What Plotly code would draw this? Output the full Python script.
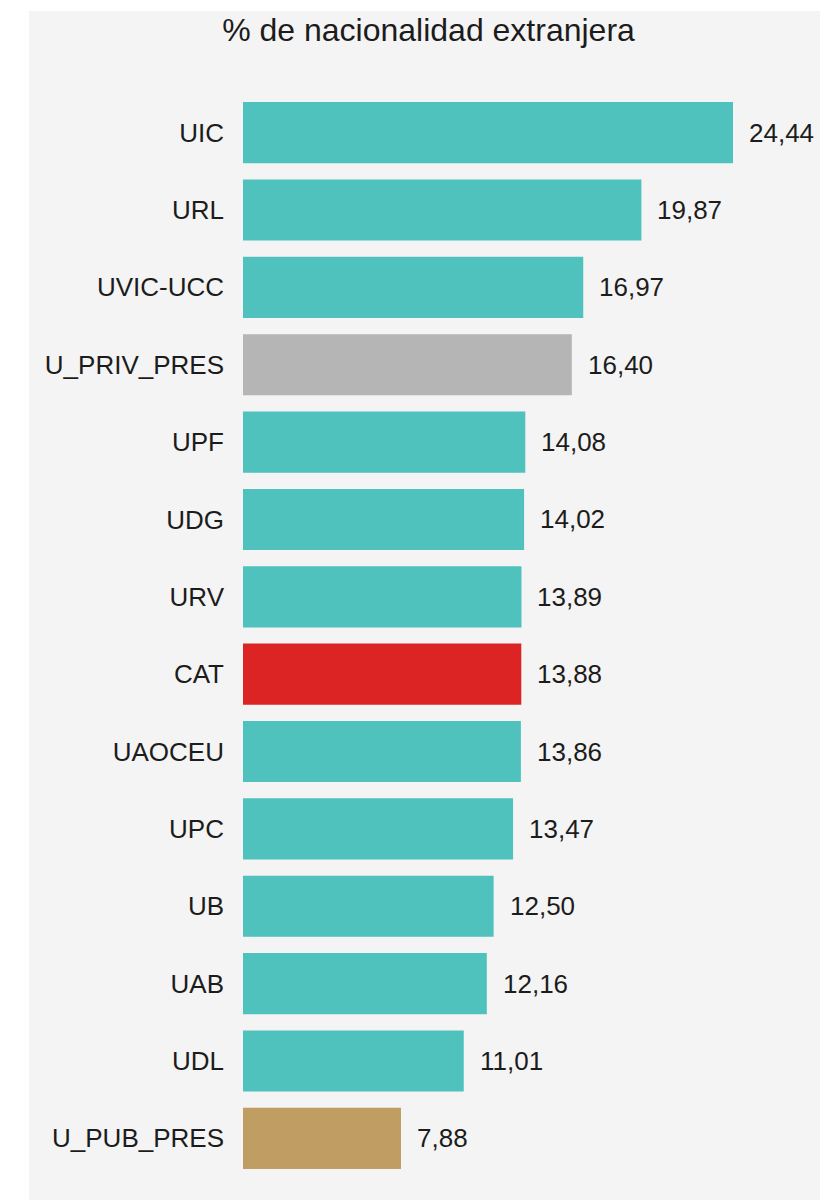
import plotly.graph_objects as go

categories = ["UIC", "URL", "UVIC-UCC", "U_PRIV_PRES", "UPF", "UDG", "URV",
              "CAT", "UAOCEU", "UPC", "UB", "UAB", "UDL", "U_PUB_PRES"]
values = [24.44, 19.87, 16.97, 16.40, 14.08, 14.02, 13.89,
          13.88, 13.86, 13.47, 12.50, 12.16, 11.01, 7.88]
labels = [f"{v:.2f}".replace(".", ",") for v in values]

TEAL = "#4fc2be"
special = {"U_PRIV_PRES": "#b5b5b5", "CAT": "#dc2424", "U_PUB_PRES": "#bf9d63"}
colors = [special.get(c, TEAL) for c in categories]

# page body has an 8px margin; figure is placed at (8, 8)
OFF = 8
W, H = 828 - OFF, 1200 - OFF
L, R, T, B = 243 - OFF, 0, 94 - OFF, 23
FONT = "Liberation Sans, Arial, sans-serif"
TXT = "#1c1c1c"

fig = go.Figure(go.Bar(
    x=values, y=categories, orientation="h",
    marker=dict(color=colors, line=dict(width=0)),
    hoverinfo="skip",
))

for c, v, lab in zip(categories, values, labels):
    fig.add_annotation(x=v, y=c, text=lab, showarrow=False, xanchor="left",
                       yanchor="middle", xshift=14,
                       font=dict(family=FONT, size=26, color=TXT))

pw = W - L - R
ph = H - T - B
fig.add_shape(type="rect", xref="paper", yref="paper", layer="below",
              x0=(29 - OFF - L) / pw, x1=1.0,
              y0=-(B + 5) / ph, y1=(H - B - (11 - OFF)) / ph,
              fillcolor="#f4f4f4", line=dict(width=0))

fig.update_layout(
    width=W, height=H,
    margin=dict(l=L, r=R, t=T, b=B, pad=0),
    paper_bgcolor="white", plot_bgcolor="rgba(0,0,0,0)",
    bargap=0.21,
    showlegend=False,
    title=dict(text="% de nacionalidad extranjera", x=(428.5 - OFF) / W, xref="container",
               xanchor="center", y=1 - (30 - OFF) / H, yref="container", yanchor="middle",
               font=dict(family=FONT, size=32, color=TXT)),
    xaxis=dict(range=[0, pw / 20.05], visible=False, fixedrange=True),
    yaxis=dict(autorange="reversed", showgrid=False, zeroline=False, showline=False,
               ticks="", ticklabelstandoff=18,
               tickfont=dict(family=FONT, size=26, color=TXT)),
)

fig.write_html("out.html")
